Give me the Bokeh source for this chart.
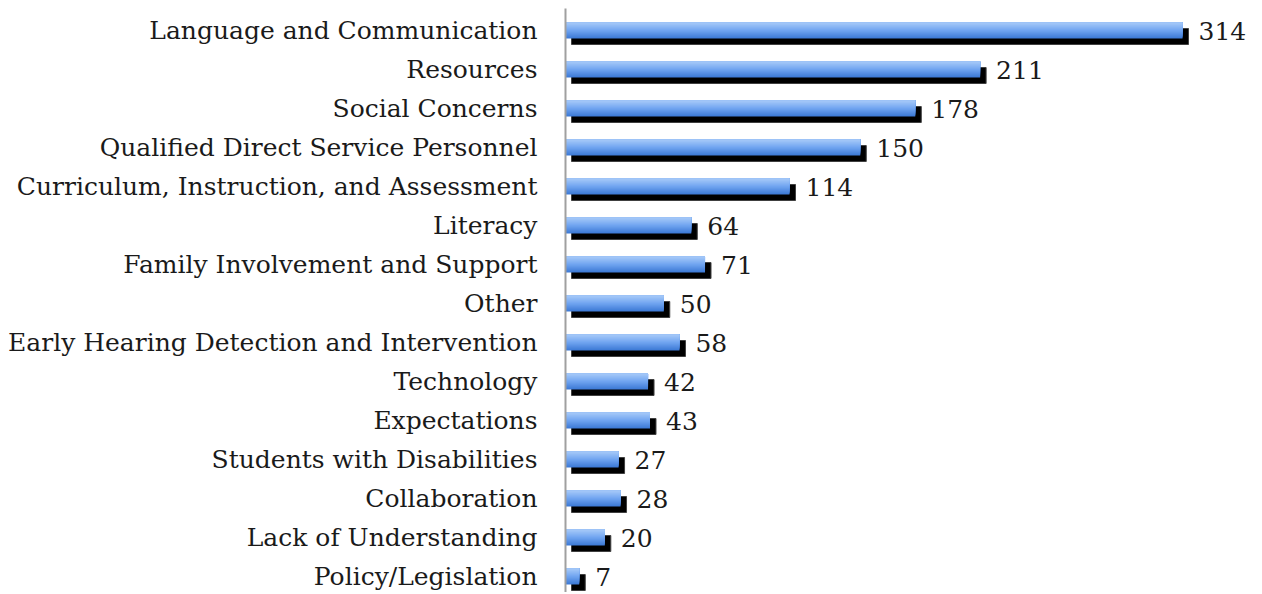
from bokeh.plotting import figure
from bokeh.models import Range1d, FixedTicker, ColumnDataSource, LabelSet
from bokeh.embed import file_html
from bokeh.resources import INLINE
from bokeh.core.properties import value

categories = [
    "Language and Communication", "Resources", "Social Concerns",
    "Qualified Direct Service Personnel", "Curriculum, Instruction, and Assessment",
    "Literacy", "Family Involvement and Support", "Other",
    "Early Hearing Detection and Intervention", "Technology", "Expectations",
    "Students with Disabilities", "Collaboration", "Lack of Understanding",
    "Policy/Legislation",
]
counts = [314, 211, 178, 150, 114, 64, 71, 50, 58, 42, 43, 27, 28, 20, 7]

FONT = "DejaVu Serif"
FS = "25px"
W, H = 1254, 592
LEFT = 565
TOPB = 8
PX_X = 1.965   # px per unit
PX_Y = 39.0    # px per row
n = len(categories)
ys = [n - 1 - i for i in range(n)]

top = (n - 1) + (30 - TOPB) / PX_Y
bottom = top - (H - TOPB) / PX_Y
xend = (W - LEFT) / PX_X

p = figure(width=W, height=H, output_backend="svg", toolbar_location=None,
           x_range=Range1d(0, xend), y_range=Range1d(bottom, top),
           min_border_left=LEFT, min_border_right=0, min_border_top=TOPB, min_border_bottom=0)
p.outline_line_color = None
p.grid.visible = False
p.xaxis.visible = False
p.background_fill_color = "white"

bh = 16 / PX_Y
dx = 6 / PX_X
dy = 6 / PX_Y

src = ColumnDataSource(dict(y=ys, v=counts, ys=[y - dy for y in ys],
                            x0=[dx] * n, x1=[c + dx for c in counts],
                            lab=[str(c) for c in counts],
                            lx=[c + dx for c in counts]))
# shadow
p.hbar(y="ys", left="x0", right="x1", height=bh, source=src,
       fill_color="#000000", line_color="#404040", line_width=1)

# gradient bar: nested bars anchored at the top, darkest (full height) first
def lerp(a, b, t):
    return tuple(int(round(a[i] + (b[i] - a[i]) * t)) for i in range(3))

c_top, c_mid, c_bot = (0xa4, 0xc8, 0xf8), (0x70, 0xa4, 0xf0), (0x3e, 0x7a, 0xd6)
k = 16
sh = bh / k
for j in range(k):
    t = 1 - j / (k - 1)   # 1 = bottom colour, 0 = top colour
    col = lerp(c_mid, c_bot, (t - 0.5) * 2) if t >= 0.5 else lerp(c_top, c_mid, t * 2)
    hh = bh - j * sh
    p.hbar(y=[y + bh / 2 - hh / 2 for y in ys], left=0, right=counts, height=hh,
           fill_color="#%02x%02x%02x" % col, line_color=None)

labels = LabelSet(x="lx", y="y", text="lab", source=src, x_offset=10, y_offset=0,
                  text_font=value(FONT), text_font_size=FS, text_color="#1a1a1a",
                  text_baseline="middle")
p.add_layout(labels)

ax = p.yaxis[0]
ax.ticker = FixedTicker(ticks=ys)
ax.major_label_overrides = {y: c for y, c in zip(ys, categories)}
ax.major_tick_line_color = None
ax.minor_tick_line_color = None
ax.axis_line_color = "#a0a0a0"
ax.axis_line_width = 2
ax.major_label_text_font = FONT
ax.major_label_text_font_size = FS
ax.major_label_text_color = "#1a1a1a"
ax.major_label_standoff = 22

open("out.html", "w").write(file_html(p, INLINE))
